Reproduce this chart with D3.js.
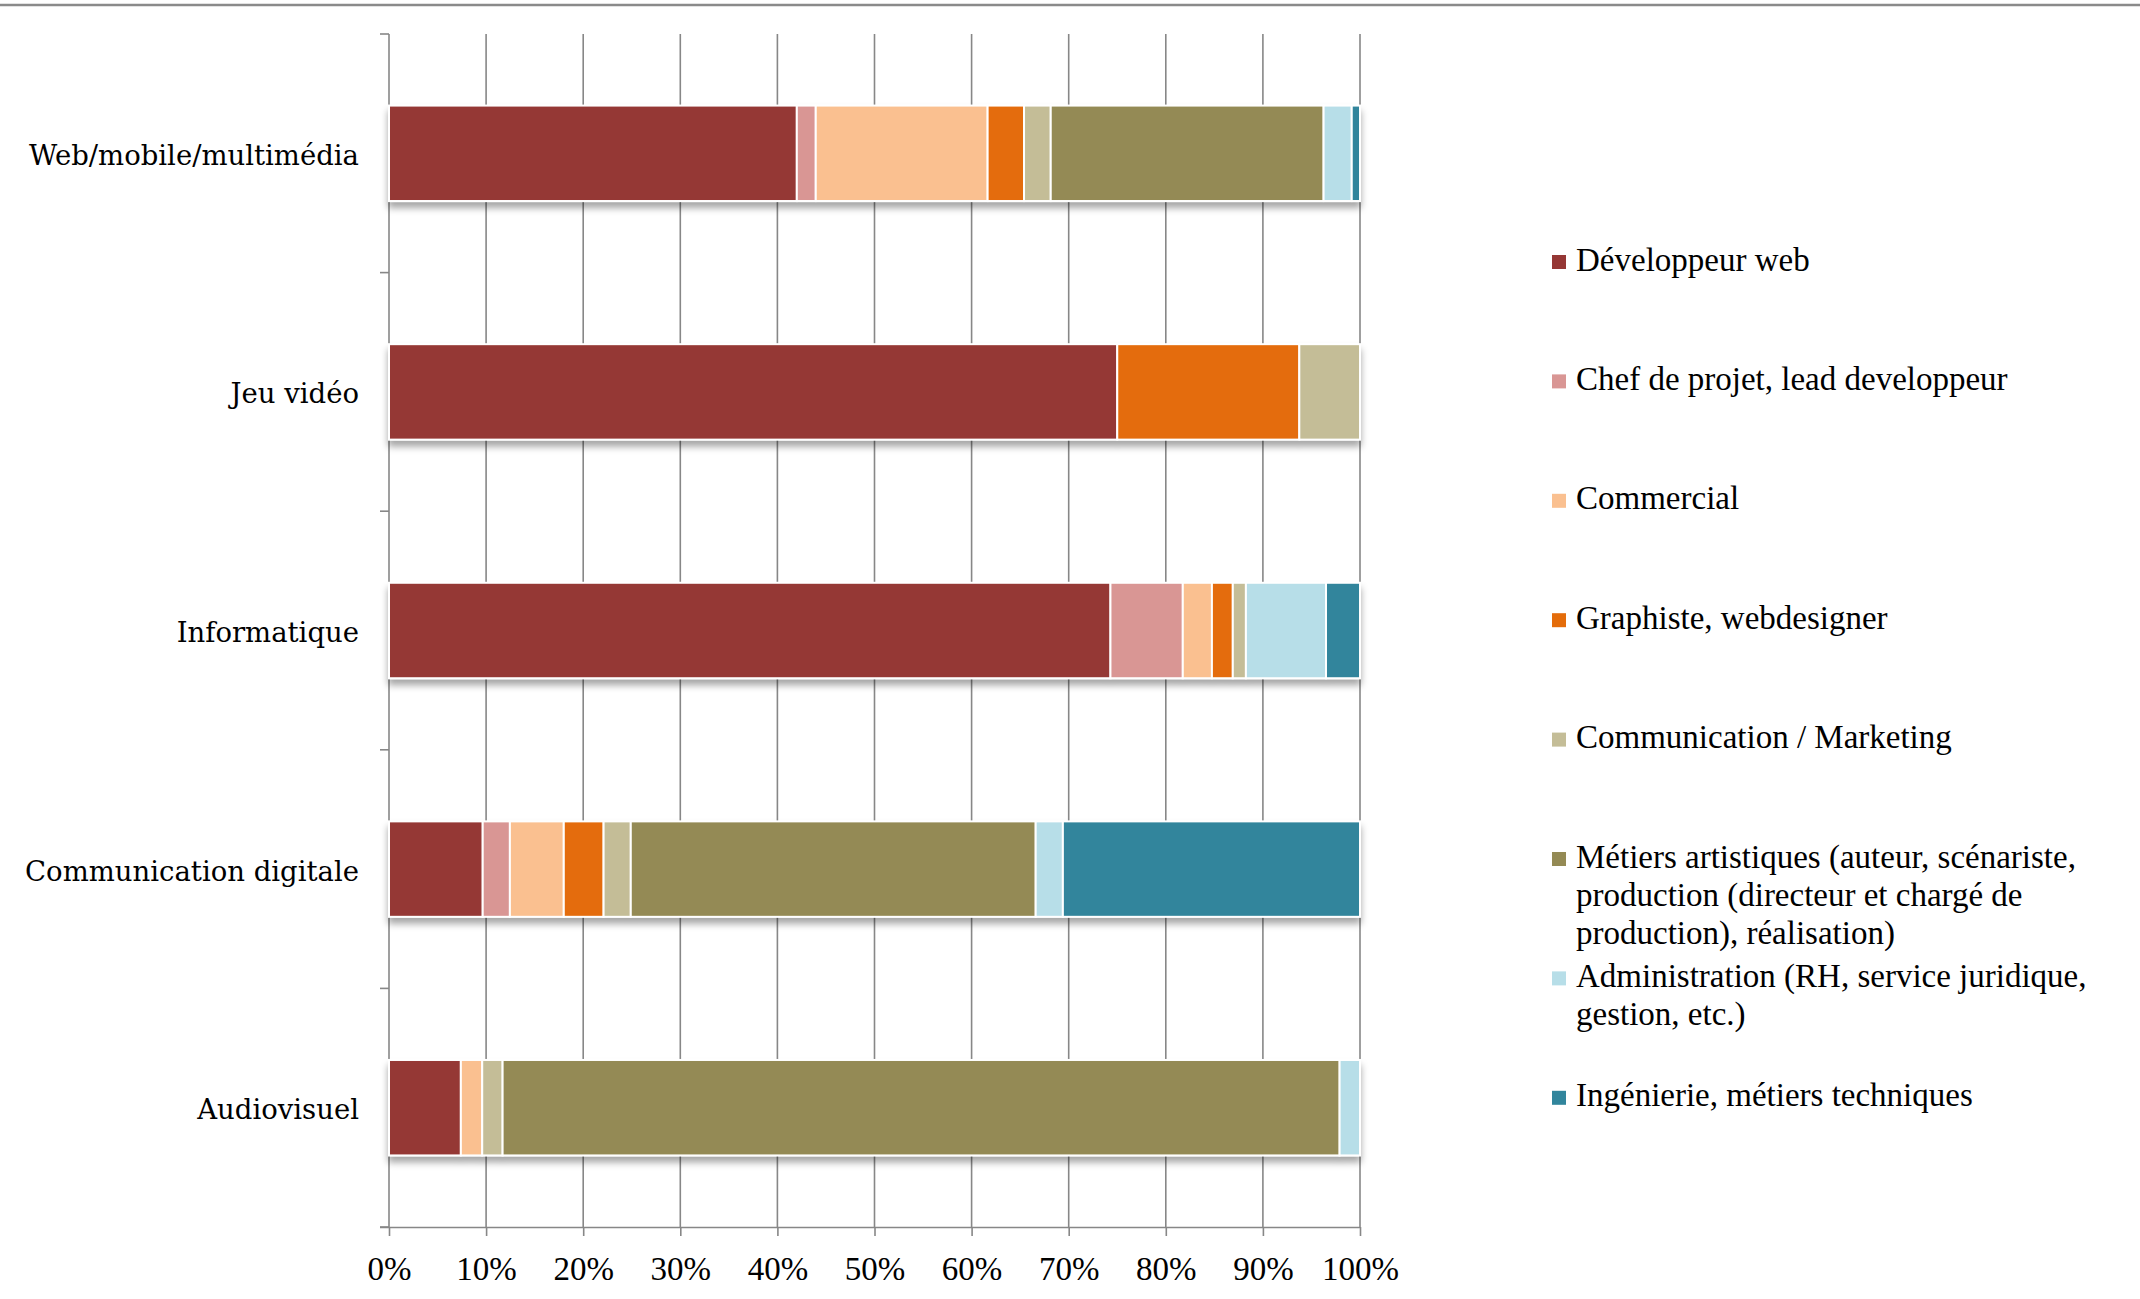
<!DOCTYPE html>
<html>
<head>
<meta charset="utf-8">
<script src="https://cdn.jsdelivr.net/npm/d3@7"></script>
<style>
  body { margin: 0; background: #fff; }
</style>
</head>
<body>
<div id="chart"></div>
<script>
// categories (top to bottom) and series, in stacking order
const categories = ["Web/mobile/multimédia", "Jeu vidéo", "Informatique", "Communication digitale", "Audiovisuel"];
const seriesNames = [
  "Développeur web",
  "Chef de projet, lead developpeur",
  "Commercial",
  "Graphiste, webdesigner",
  "Communication / Marketing",
  "Métiers artistiques (auteur, scénariste, production (directeur et chargé de production), réalisation)",
  "Administration (RH, service juridique, gestion, etc.)",
  "Ingénierie, métiers techniques"
];
// legend lines as they wrap in the picture
const legendLines = [
  ["Développeur web"],
  ["Chef de projet, lead developpeur"],
  ["Commercial"],
  ["Graphiste, webdesigner"],
  ["Communication / Marketing"],
  ["Métiers artistiques (auteur, scénariste,", "production (directeur et chargé de", "production), réalisation)"],
  ["Administration (RH, service juridique,", "gestion, etc.)"],
  ["Ingénierie, métiers techniques"]
];
const colors = ["#953735", "#D99694", "#FAC090", "#E46C0A", "#C4BD97", "#948A54", "#B7DEE8", "#31859C"];

// shares (%) per category, same order as categories
const devWeb         = [42.0, 75.0, 74.3, 9.65, 7.4];
const chefProjet     = [1.95, 0, 7.45, 2.8, 0];
const commercial     = [17.7, 0, 3.0, 5.55, 2.2];
const graphiste      = [3.75, 18.75, 2.15, 4.1, 0];
const communication  = [2.75, 6.25, 1.35, 2.8, 2.1];
const metiers        = [28.1, 0, 0, 41.7, 86.2];
const administration = [2.9, 0, 8.25, 2.8, 2.1];
const ingenierie     = [0.85, 0, 3.5, 30.6, 0];

const xTicks = [0, 0.1, 0.2, 0.3, 0.4, 0.5, 0.6, 0.7, 0.8, 0.9, 1];

const seriesValues = [devWeb, chefProjet, commercial, graphiste, communication, metiers, administration, ingenierie];
const table = categories.map((c, i) => {
  const row = { category: c };
  seriesNames.forEach((s, j) => { row[s] = seriesValues[j][i]; });
  return row;
});

// chart dimensions
const width = 2140;
const height = 1299;
const marginTop = 34;
const marginBottom = 72;
const marginLeft = 389;
const plotRight = 1360;
const gridColor = "#878787";

const x = d3.scaleLinear()
  .domain([0, 1])
  .range([marginLeft, plotRight]);

const y = d3.scaleBand()
  .domain(categories)
  .range([marginTop, height - marginBottom]);

const barInset = y.bandwidth() * 0.3;
const barHeight = y.bandwidth() * 0.4;

const stack = d3.stack()
  .keys(seriesNames)
  .offset(d3.stackOffsetExpand);
const stacked = stack(table);

const svg = d3.create("svg")
  .attr("width", width)
  .attr("height", height)
  .attr("viewBox", [0, 0, width, height]);

const defs = svg.append("defs");
defs.append("filter")
  .attr("id", "shadow")
  .attr("x", "-5%").attr("y", "-20%")
  .attr("width", "110%").attr("height", "160%")
  .append("feDropShadow")
  .attr("dx", 0).attr("dy", 6)
  .attr("stdDeviation", 3.5)
  .attr("flood-color", "#000")
  .attr("flood-opacity", 0.35);

// top rule
svg.append("line")
  .attr("x1", 0).attr("x2", width)
  .attr("y1", 5).attr("y2", 5)
  .attr("stroke", "#8a8a8a")
  .attr("stroke-width", 2.5);

// vertical grid lines
svg.append("g")
  .selectAll("line")
  .data(xTicks.slice(1))
  .join("line")
  .attr("x1", d => x(d)).attr("x2", d => x(d))
  .attr("y1", marginTop).attr("y2", height - marginBottom)
  .attr("stroke", gridColor)
  .attr("stroke-width", 1.6);

// x axis
svg.append("g")
  .attr("transform", `translate(0,${height - marginBottom})`)
  .call(d3.axisBottom(x)
    .tickValues(xTicks)
    .tickFormat(d3.format(".0%"))
    .tickSizeInner(9)
    .tickSizeOuter(0)
    .tickPadding(21))
  .call(g => g.select(".domain").attr("stroke", gridColor).attr("stroke-width", 1.6)
    .attr("d", `M${marginLeft - 9},0.5H${plotRight}`))
  .call(g => g.selectAll(".tick line").attr("stroke", gridColor).attr("stroke-width", 1.6))
  .call(g => g.selectAll(".tick text")
    .attr("fill", "#000")
    .style("font-family", "'Liberation Serif', serif")
    .style("font-size", "33px"));

// y axis: line with ticks at band boundaries
const boundaries = categories.map(c => y(c)).concat([y.range()[1]]);
const yAxis = svg.append("g");
yAxis.append("line")
  .attr("x1", marginLeft).attr("x2", marginLeft)
  .attr("y1", marginTop).attr("y2", height - marginBottom)
  .attr("stroke", gridColor)
  .attr("stroke-width", 1.6);
yAxis.selectAll(".ytick")
  .data(boundaries)
  .join("line")
  .attr("class", "ytick")
  .attr("x1", marginLeft - 9).attr("x2", marginLeft)
  .attr("y1", d => d).attr("y2", d => d)
  .attr("stroke", gridColor)
  .attr("stroke-width", 1.6);

yAxis.selectAll(".ylabel")
  .data(categories)
  .join("text")
  .attr("class", "ylabel")
  .attr("x", marginLeft - 30)
  .attr("y", d => y(d) + y.bandwidth() / 2 + 4)
  .attr("text-anchor", "end")
  .attr("dominant-baseline", "middle")
  .style("font-family", "'DejaVu Serif', serif")
  .style("font-size", "27.5px")
  .text(d => d);

// bars
const bars = svg.append("g");
categories.forEach((c, i) => {
  const g = bars.append("g").attr("filter", "url(#shadow)");
  stacked.forEach((layer, j) => {
    const d = layer[i];
    if (d[1] - d[0] <= 0) return;
    g.append("rect")
      .attr("x", x(d[0]))
      .attr("y", y(c) + barInset)
      .attr("width", x(d[1]) - x(d[0]))
      .attr("height", barHeight)
      .attr("fill", colors[j])
      .attr("stroke", "#fff")
      .attr("stroke-width", 2);
  });
});

// legend
const legendTop = 263;
const legendStep = 119.4;
const lineHeight = 38;
const legend = svg.append("g")
  .attr("transform", "translate(1552,0)");
legendLines.forEach((lines, i) => {
  const cy = legendTop + i * legendStep;
  legend.append("rect")
    .attr("x", 0).attr("y", cy - 8)
    .attr("width", 14).attr("height", 14)
    .attr("fill", colors[i]);
  legend.append("text")
    .style("font-family", "'Liberation Serif', serif")
    .style("font-size", "33px")
    .selectAll("tspan")
    .data(lines)
    .join("tspan")
    .attr("x", 24)
    .attr("y", (d, k) => cy + k * lineHeight)
    .attr("dominant-baseline", "middle")
    .text(d => d);
});

document.querySelector("#chart").append(svg.node());
</script>
</body>
</html>
